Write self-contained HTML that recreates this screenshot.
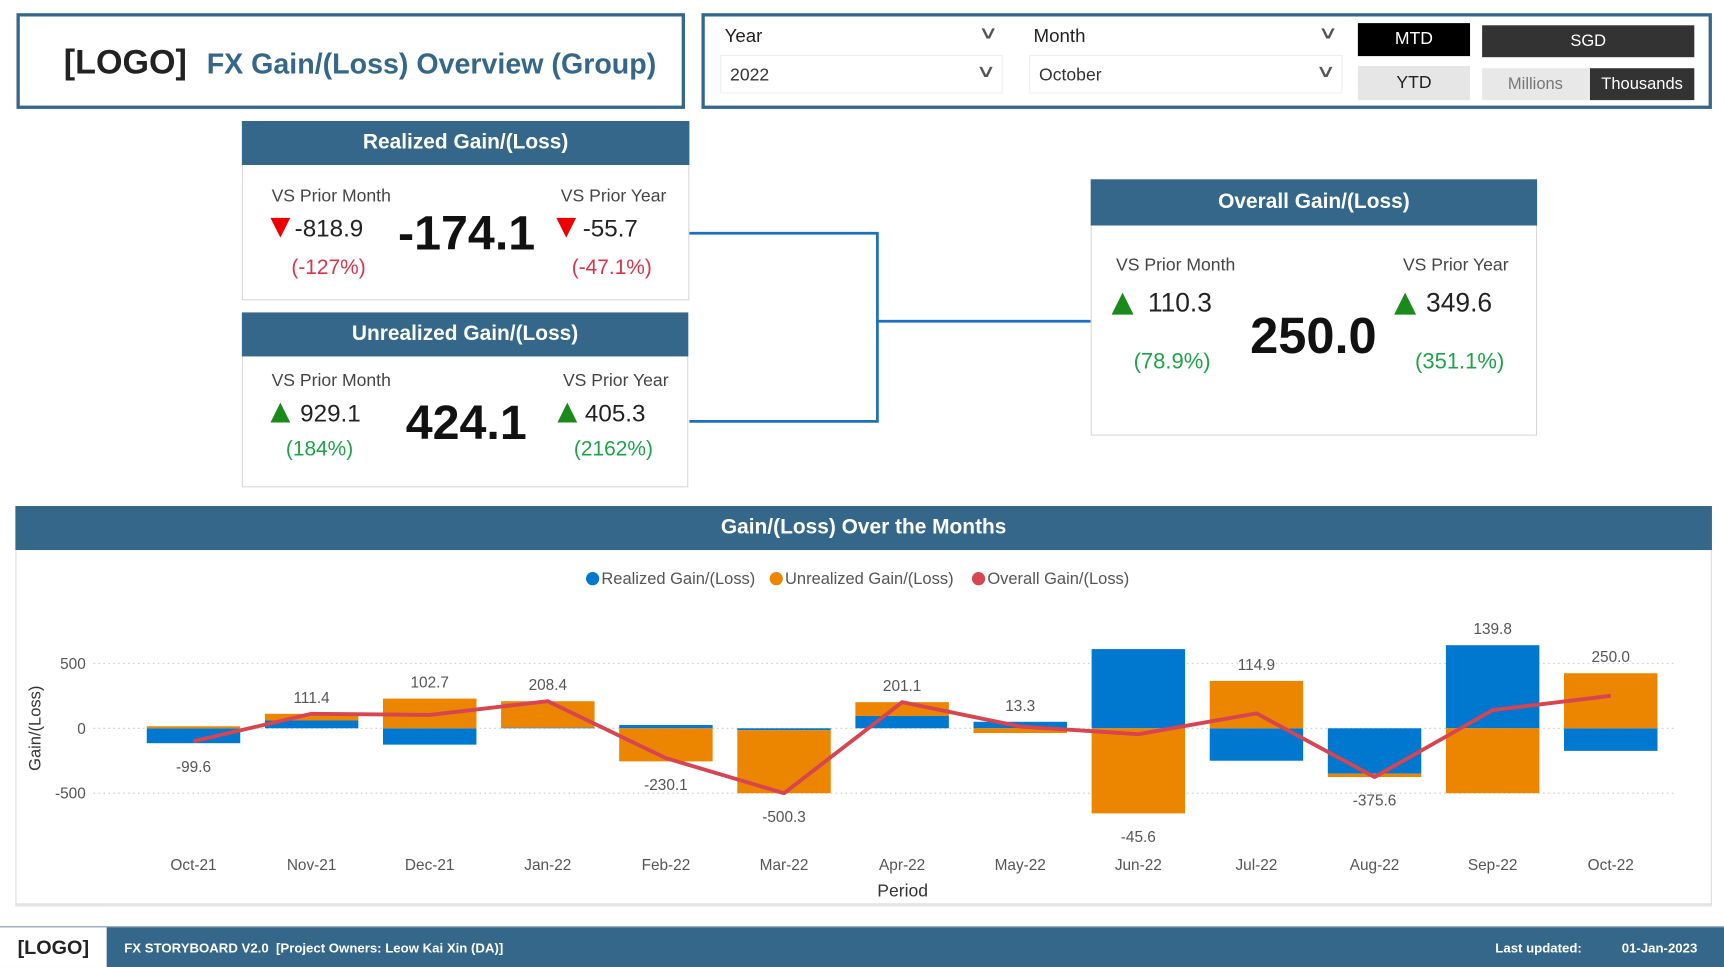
<!DOCTYPE html>
<html><head><meta charset="utf-8">
<style>
html,body{margin:0;padding:0;width:1724px;height:967px;overflow:hidden;background:#fff;}
#wrap{position:absolute;left:0;top:0;width:1568px;height:879px;transform:scale(1.09949,1.10011);transform-origin:0 0;font-family:"Liberation Sans",sans-serif;}
.abs{position:absolute;box-sizing:border-box;}
.hdr{background:#34678a;color:#fff;font-weight:bold;font-size:19px;text-align:center;}
.card{border:1px solid #d8d8d8;background:#fff;}
.lbl{font-size:16px;color:#444;}
.num{font-size:22px;color:#222;}
.red{color:#d9344a;font-size:19px;}
.grn{color:#1ea34a;font-size:19px;}
.tri-d{width:0;height:0;border-left:9px solid transparent;border-right:9px solid transparent;border-top:18px solid #e00;}
.tri-u{width:0;height:0;border-left:9px solid transparent;border-right:9px solid transparent;border-bottom:18px solid #1a8a1a;}
.big{font-weight:bold;color:#111;font-size:44px;}
.dd{border:1px solid #eee;font-size:16px;color:#333;padding:9px 8px;}
.chev{position:absolute;right:8px;top:4px;font-size:16px;color:#555;transform:scaleX(1.6);}
</style></head><body>
<div id="wrap">
<!-- title box -->
<div class="abs" style="left:15px;top:12px;width:608px;height:87px;border:3px solid #34678a;">
  <span class="abs" style="left:40px;top:24px;font-size:31px;font-weight:bold;color:#222;">[LOGO]</span>
  <span class="abs" style="left:170px;top:28px;font-size:26px;font-weight:bold;color:#34678a;">FX Gain/(Loss) Overview (Group)</span>
</div>
<!-- filters -->
<div class="abs" style="left:638px;top:12px;width:919px;height:87px;border:3px solid #34678a;"></div>
<div class="abs" style="left:659px;top:23px;font-size:17px;color:#222;">Year</div>
<div class="abs" style="left:893px;top:20px;font-size:16px;color:#555;transform:scaleX(1.6);">∨</div>
<div class="abs dd" style="left:655px;top:50px;width:257px;height:35px;">2022<span class="chev">∨</span></div>
<div class="abs" style="left:940px;top:23px;font-size:17px;color:#222;">Month</div>
<div class="abs" style="left:1202px;top:20px;font-size:16px;color:#555;transform:scaleX(1.6);">∨</div>
<div class="abs dd" style="left:936px;top:50px;width:285px;height:35px;">October<span class="chev">∨</span></div>
<div class="abs" style="left:1235px;top:21px;width:102px;height:30px;background:#000;color:#fff;font-size:16px;text-align:center;line-height:30px;">MTD</div>
<div class="abs" style="left:1235px;top:60px;width:102px;height:31px;background:#e6e6e6;color:#222;font-size:16px;text-align:center;line-height:31px;">YTD</div>
<div class="abs" style="left:1348px;top:23px;width:193px;height:29px;background:#333;color:#fff;font-size:15px;text-align:center;line-height:29px;">SGD</div>
<div class="abs" style="left:1348px;top:62px;width:97px;height:29px;background:#e8e8e8;color:#777;font-size:15px;text-align:center;line-height:29px;">Millions</div>
<div class="abs" style="left:1446px;top:62px;width:95px;height:29px;background:#333;color:#fff;font-size:15px;text-align:center;line-height:29px;">Thousands</div>

<!-- realized card -->
<div class="abs card" style="left:220px;top:110px;width:407px;height:163px;"></div>
<div class="abs hdr" style="left:220px;top:110px;width:407px;height:40px;line-height:40px;">Realized Gain/(Loss)</div>
<div class="abs lbl" style="left:247px;top:170px;">VS Prior Month</div>
<div class="abs tri-d" style="left:246px;top:198px;"></div>
<div class="abs num" style="left:268px;top:195px;">-818.9</div>
<div class="abs red" style="left:265px;top:233px;">(-127%)</div>
<div class="abs big" style="left:362px;top:188px;">-174.1</div>
<div class="abs lbl" style="left:510px;top:170px;">VS Prior Year</div>
<div class="abs tri-d" style="left:506px;top:198px;"></div>
<div class="abs num" style="left:530px;top:195px;">-55.7</div>
<div class="abs red" style="left:520px;top:233px;">(-47.1%)</div>

<!-- unrealized card -->
<div class="abs card" style="left:220px;top:284px;width:406px;height:159px;"></div>
<div class="abs hdr" style="left:220px;top:284px;width:406px;height:40px;line-height:40px;">Unrealized Gain/(Loss)</div>
<div class="abs lbl" style="left:247px;top:338px;">VS Prior Month</div>
<div class="abs tri-u" style="left:246px;top:366px;"></div>
<div class="abs num" style="left:273px;top:363px;">929.1</div>
<div class="abs grn" style="left:260px;top:398px;">(184%)</div>
<div class="abs big" style="left:369px;top:360px;">424.1</div>
<div class="abs lbl" style="left:512px;top:338px;">VS Prior Year</div>
<div class="abs tri-u" style="left:507px;top:366px;"></div>
<div class="abs num" style="left:532px;top:363px;">405.3</div>
<div class="abs grn" style="left:522px;top:398px;">(2162%)</div>

<!-- connectors -->
<svg class="abs" style="left:0;top:0;" width="1568" height="879">
<path d="M627 212 H798 V383 H627 M798 292 H992" stroke="#1f6fbf" stroke-width="2.5" fill="none"/>
</svg>

<!-- overall card -->
<div class="abs card" style="left:992px;top:163px;width:406px;height:233px;"></div>
<div class="abs hdr" style="left:992px;top:163px;width:406px;height:42px;line-height:42px;">Overall Gain/(Loss)</div>
<div class="abs lbl" style="left:1015px;top:233px;">VS Prior Month</div>
<div class="abs tri-u" style="left:1011px;top:266px;border-bottom-width:20px;border-left-width:10px;border-right-width:10px;"></div>
<div class="abs num" style="left:1044px;top:262px;font-size:24px;">110.3</div>
<div class="abs grn" style="left:1031px;top:318px;font-size:20px;">(78.9%)</div>
<div class="abs big" style="left:1137px;top:278px;font-size:46px;">250.0</div>
<div class="abs lbl" style="left:1276px;top:233px;">VS Prior Year</div>
<div class="abs tri-u" style="left:1268px;top:266px;border-bottom-width:20px;border-left-width:10px;border-right-width:10px;"></div>
<div class="abs num" style="left:1297px;top:262px;font-size:24px;">349.6</div>
<div class="abs grn" style="left:1287px;top:318px;font-size:20px;">(351.1%)</div>

<!-- chart panel -->
<div class="abs" style="left:14px;top:460px;width:1543px;height:364px;border:1px solid #ddd;border-bottom:3px solid #e3e3e3;"></div>
<div class="abs hdr" style="left:14px;top:460px;width:1543px;height:40px;line-height:40px;">Gain/(Loss) Over the Months</div>
<svg id="chart" class="abs" style="left:0;top:0;font-family:'Liberation Sans',sans-serif;" width="1568" height="879"></svg>

<!-- footer -->
<div class="abs" style="left:0;top:842px;width:1568px;height:37px;background:#34678a;border-top:1px solid #9ab;"></div>
<div class="abs" style="left:0;top:843px;width:97px;height:36px;background:#fff;font-size:18px;font-weight:bold;color:#222;text-align:center;line-height:36px;">[LOGO]</div>
<div class="abs" style="left:113px;top:855px;font-size:12px;font-weight:bold;color:#fff;">FX STORYBOARD V2.0 &nbsp;[Project Owners: Leow Kai Xin (DA)]</div>
<div class="abs" style="left:1360px;top:855px;font-size:12px;font-weight:bold;color:#fff;">Last updated:</div>
<div class="abs" style="left:1475px;top:855px;font-size:12px;font-weight:bold;color:#fff;">01-Jan-2023</div>
</div>
<script>
const categories=["Oct-21","Nov-21","Dec-21","Jan-22","Feb-22","Mar-22","Apr-22","May-22","Jun-22","Jul-22","Aug-22","Sep-22","Oct-22"];
const realized=[-115,60,-126,5,25,-15,95,50,610,-250,-350,640,-174.1];
const unrealized=[15.4,51.4,228.7,203.4,-255.1,-485.3,106.1,-36.7,-655.6,364.9,-25.6,-500.2,424.1];
const overall=[-99.6,111.4,102.7,208.4,-230.1,-500.3,201.1,13.3,-45.6,114.9,-375.6,139.8,250.0];
const yTicks=[500,0,-500];
const NS="http://www.w3.org/2000/svg";
const svg=document.getElementById('chart');
function x(i){return 176+i*(1465-176)/(categories.length-1);}
function y(v){return 662-v*0.118;}
const bw=85;
function mk(tag,attrs,parent){const e=document.createElementNS(NS,tag);for(const k in attrs)e.setAttribute(k,attrs[k]);(parent||svg).appendChild(e);return e;}
yTicks.forEach(t=>{
  const g=mk('line',{x1:85,x2:1525,y1:y(t),y2:y(t),stroke:'#ccc','stroke-dasharray':'1.5 3'});
  
  
  const tx=mk('text',{x:78,y:y(t)+5,'text-anchor':'end','font-size':14,fill:'#555'});tx.textContent=t;
  
  
});
categories.forEach((c,i)=>{
  const cx=x(i);
  function seg(base,v,col,name){
    const y1=y(base),y2=y(base+v);
    const r=mk('rect',{x:cx-bw/2,y:Math.min(y1,y2),width:bw,height:Math.abs(y2-y1),fill:col});
    
    
  }
  const r=realized[i],u=unrealized[i];
  let pos=0,neg=0;
  [[r,'#0078d0','bar-realized'],[u,'#ec8500','bar-unrealized']].forEach(([v,col,n])=>{
    if(v>=0){seg(pos,v,col,n);pos+=v;}else{seg(neg,v,col,n);neg+=v;}
  });
  const o=overall[i];
  const ly=o>=0?y(pos)-10:y(neg)+26;
  const lt=mk('text',{x:cx,y:ly,'text-anchor':'middle','font-size':14,fill:'#555'});lt.textContent=o.toFixed(1);
  
  
  const ct=mk('text',{x:cx,y:791,'text-anchor':'middle','font-size':14,fill:'#555'});ct.textContent=c;
  
  
});
const pl=mk('polyline',{points:overall.map((v,i)=>x(i)+','+y(v)).join(' '),fill:'none',stroke:'#d64550','stroke-width':3.5,'stroke-linejoin':'round'});


const xt=mk('text',{x:821,y:815,'text-anchor':'middle','font-size':16,fill:'#333'});xt.textContent='Period';


const yt=mk('text',{x:37,y:662,'text-anchor':'middle','font-size':15,fill:'#333',transform:'rotate(-90 37 662)'});yt.textContent='Gain/(Loss)';


const leg=[['#0078d0','Realized Gain/(Loss)',533],['#ec8500','Unrealized Gain/(Loss)',700],['#d64550','Overall Gain/(Loss)',884]];
leg.forEach(([c,t,lx])=>{
  const g=mk('g',{});
  
  
  mk('circle',{cx:lx+6,cy:526,r:6,fill:c},g);
  const tx=mk('text',{x:lx+14,y:531,'font-size':15,fill:'#555'},g);tx.textContent=t;
});
</script>
</body></html>
